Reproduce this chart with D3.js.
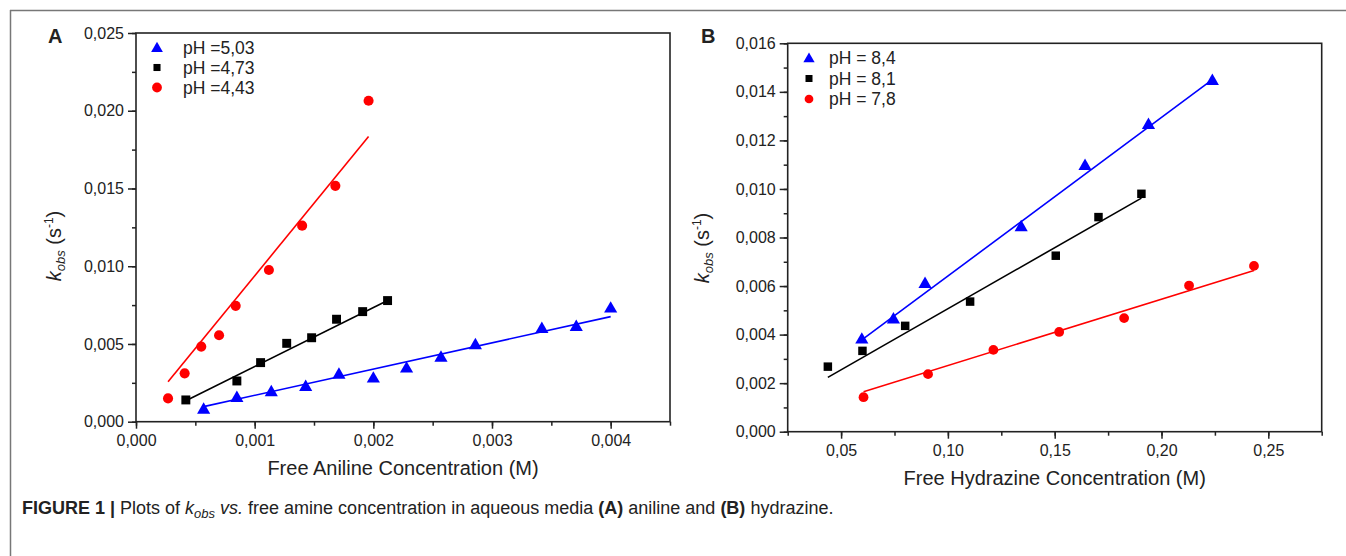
<!DOCTYPE html>
<html>
<head>
<meta charset="utf-8">
<script src="https://cdn.jsdelivr.net/npm/d3@7"></script>
<style>
  body { margin: 0; background: #fff; }
  svg { display: block; }
  text { font-family: "Liberation Sans", Arial, sans-serif; fill: #222; }
</style>
</head>
<body>
<svg class="svg-canvas" width="1346" height="556"></svg>
<script>
// panel A: aniline
var anilineX503 = [0.00057, 0.00085, 0.00114, 0.00143, 0.00171, 0.00200, 0.00228, 0.00257, 0.00286, 0.00342, 0.00371, 0.00400];
var anilineY503 = [0.00086, 0.00161, 0.00198, 0.00232, 0.00311, 0.00286, 0.00350, 0.00420, 0.00500, 0.00605, 0.00618, 0.00736];
var anilineX473 = [0.00042, 0.00085, 0.00105, 0.00127, 0.00148, 0.00169, 0.00191, 0.00212];
var anilineY473 = [0.00140, 0.00262, 0.00380, 0.00504, 0.00540, 0.00659, 0.00708, 0.00779];
var anilineX443 = [0.00027, 0.00041, 0.00055, 0.00070, 0.00084, 0.00112, 0.00140, 0.00168, 0.00196];
var anilineY443 = [0.00150, 0.00311, 0.00483, 0.00556, 0.00745, 0.00976, 0.01261, 0.01517, 0.02064];
// fitted lines, [x0, y0, x1, y1]
var anilineFit503 = [0.00057, 0.00097, 0.00400, 0.00676];
var anilineFit473 = [0.00042, 0.00135, 0.00212, 0.00780];
var anilineFit443 = [0.00027, 0.00257, 0.00196, 0.01834];
var anilineLabels = ["pH =5,03", "pH =4,73", "pH =4,43"];

// panel B: hydrazine
var hydrazineX84 = [0.0597, 0.0745, 0.0893, 0.1343, 0.1642, 0.1939, 0.2238];
var hydrazineY84 = [0.00385, 0.00468, 0.00614, 0.00848, 0.01100, 0.01269, 0.01450];
var hydrazineX81 = [0.0438, 0.0600, 0.0800, 0.1104, 0.1505, 0.1705, 0.1906];
var hydrazineY81 = [0.00268, 0.00333, 0.00436, 0.00536, 0.00725, 0.00884, 0.00980];
var hydrazineX78 = [0.0605, 0.0907, 0.1213, 0.1521, 0.1825, 0.2129, 0.2433];
var hydrazineY78 = [0.00142, 0.00237, 0.00337, 0.00411, 0.00468, 0.00602, 0.00683];
var hydrazineFit84 = [0.0597, 0.00378, 0.2238, 0.01450];
var hydrazineFit81 = [0.0438, 0.00224, 0.1906, 0.00962];
var hydrazineFit78 = [0.0605, 0.00165, 0.2433, 0.00664];
var hydrazineLabels = ["pH = 8,4", "pH = 8,1", "pH = 7,8"];

var anilineXTicks = [0, 0.001, 0.002, 0.003, 0.004];
var anilineYTicks = [0, 0.005, 0.010, 0.015, 0.020, 0.025];
var hydrazineXTicks = [0.05, 0.10, 0.15, 0.20, 0.25];
var hydrazineYTicks = [0, 0.002, 0.004, 0.006, 0.008, 0.010, 0.012, 0.014, 0.016];

var colors = ["#0000ff", "#000000", "#ff0000"];
var shapes = [d3.symbolTriangle, d3.symbolSquare, d3.symbolCircle];

var svg = d3.select(".svg-canvas");
var comma = d3.formatLocale({decimal: ",", thousands: ".", grouping: [3], currency: ["", ""]});

// figure frame (left + top rules)
svg.append("line").attr("x1", 10).attr("y1", 10.5).attr("x2", 1346).attr("y2", 10.5)
  .attr("stroke", "#777").attr("stroke-width", 1.5);
svg.append("line").attr("x1", 10.5).attr("y1", 10).attr("x2", 10.5).attr("y2", 556)
  .attr("stroke", "#777").attr("stroke-width", 1.5);

function drawPanel(p) {
  var g = svg.append("g");
  var x = d3.scaleLinear().domain(p.xDomain).range([p.left, p.right]);
  var y = d3.scaleLinear().domain(p.yDomain).range([p.bottom, p.top]);

  var xMinor = d3.range(p.xDomain[0], p.xDomain[1] + p.xStep / 4, p.xStep / 2);
  var yMinor = d3.range(p.yDomain[0], p.yDomain[1] + p.yStep / 4, p.yStep / 2);

  var xAxis = d3.axisBottom(x).tickValues(p.xTicks).tickFormat(comma.format(p.xFmt))
    .tickSizeInner(7).tickSizeOuter(0).tickPadding(6);
  var yAxis = d3.axisLeft(y).tickValues(p.yTicks).tickFormat(comma.format(".3f"))
    .tickSizeInner(8).tickSizeOuter(0).tickPadding(4);

  g.append("g").attr("transform", "translate(0," + p.bottom + ")")
    .call(d3.axisBottom(x).tickValues(xMinor).tickFormat("").tickSize(4).tickSizeOuter(0))
    .call(function(s) { s.select(".domain").remove(); })
    .selectAll("line").attr("stroke", "#222").attr("stroke-width", 1.5);
  g.append("g").attr("transform", "translate(" + p.left + ",0)")
    .call(d3.axisLeft(y).tickValues(yMinor).tickFormat("").tickSize(4).tickSizeOuter(0))
    .call(function(s) { s.select(".domain").remove(); })
    .selectAll("line").attr("stroke", "#222").attr("stroke-width", 1.5);

  var gx = g.append("g").attr("transform", "translate(0," + p.bottom + ")").call(xAxis);
  var gy = g.append("g").attr("transform", "translate(" + p.left + ",0)").call(yAxis);
  [gx, gy].forEach(function(a) {
    a.select(".domain").remove();
    a.selectAll("line").attr("stroke", "#222").attr("stroke-width", 1.5);
    a.selectAll("text").attr("font-size", 16).attr("fill", "#333")
      .attr("font-family", "'Liberation Sans', Arial, sans-serif");
  });

  g.append("rect")
    .attr("x", p.left).attr("y", p.top)
    .attr("width", p.right - p.left).attr("height", p.bottom - p.top)
    .attr("fill", "none").attr("stroke", "#222").attr("stroke-width", 1.6);

  // fit lines
  p.fits.forEach(function(f, i) {
    g.append("line")
      .attr("x1", x(f[0])).attr("y1", y(f[1]))
      .attr("x2", x(f[2])).attr("y2", y(f[3]))
      .attr("stroke", colors[i]).attr("stroke-width", 1.6);
  });

  // points
  p.series.forEach(function(s, i) {
    g.selectAll(".pt" + i)
      .data(d3.zip(s[0], s[1])).enter()
      .append("path")
      .attr("class", "pt" + i)
      .attr("d", d3.symbol().type(shapes[i]).size(p.sizes[i]))
      .attr("transform", function(d) {
        var dy = i === 0 ? 1.5 : 0;
        return "translate(" + x(d[0]) + "," + (y(d[1]) + dy) + ")";
      })
      .attr("fill", colors[i]);
  });

  // legend
  p.labels.forEach(function(lab, i) {
    var ly = p.legendY + i * p.legendGap;
    g.append("path")
      .attr("d", d3.symbol().type(shapes[i]).size(p.legendSizes[i]))
      .attr("transform", "translate(" + p.legendX + "," + (ly + (i === 0 ? 1 : 0)) + ")")
      .attr("fill", colors[i]);
    g.append("text")
      .attr("x", p.legendX + p.legendPad).attr("y", ly)
      .attr("dy", "0.36em")
      .attr("font-size", 17.5)
      .attr("fill", "#222")
      .text(lab);
  });

  // panel letter
  g.append("text").attr("x", p.letterX).attr("y", p.letterY)
    .attr("font-size", 20).attr("font-weight", "bold").attr("fill", "#111")
    .text(p.letter);

  // axis titles
  g.append("text")
    .attr("x", (p.left + p.right) / 2).attr("y", p.bottom + 53)
    .attr("text-anchor", "middle").attr("font-size", 20).attr("fill", "#222")
    .text(p.xTitle);

  var yt = g.append("text")
    .attr("transform", "translate(" + p.yTitleX + "," + p.yTitleY + ") rotate(-90)")
    .attr("text-anchor", "middle").attr("font-size", 20).attr("fill", "#222");
  yt.append("tspan").attr("font-style", "italic").text("k");
  yt.append("tspan").attr("font-style", "italic").attr("font-size", 13).attr("dy", 4).text("obs");
  yt.append("tspan").attr("dy", -4).text(" (s");
  yt.append("tspan").attr("font-size", 12).attr("dy", -8).text("-1");
  yt.append("tspan").attr("dy", 8).text(")");
}

drawPanel({
  letter: "A", letterX: 48, letterY: 43,
  left: 136, right: 670, top: 33, bottom: 421.7,
  xDomain: [0, 0.0045], yDomain: [0, 0.025], xStep: 0.001, yStep: 0.005,
  xTicks: anilineXTicks, yTicks: anilineYTicks, xFmt: ".3f",
  series: [[anilineX503, anilineY503], [anilineX473, anilineY473], [anilineX443, anilineY443]],
  fits: [anilineFit503, anilineFit473, anilineFit443],
  sizes: [75, 80, 80],
  labels: anilineLabels, legendX: 157, legendY: 47.5, legendGap: 20, legendPad: 26,
  legendSizes: [60, 50, 75],
  xTitle: "Free Aniline Concentration (M)",
  yTitleX: 61, yTitleY: 246
});

drawPanel({
  letter: "B", letterX: 701, letterY: 43,
  left: 787.7, right: 1321.7, top: 43.3, bottom: 431.7,
  xDomain: [0.025, 0.275], yDomain: [0, 0.016], xStep: 0.05, yStep: 0.002,
  xTicks: hydrazineXTicks, yTicks: hydrazineYTicks, xFmt: ".2f",
  series: [[hydrazineX84, hydrazineY84], [hydrazineX81, hydrazineY81], [hydrazineX78, hydrazineY78]],
  fits: [hydrazineFit84, hydrazineFit81, hydrazineFit78],
  sizes: [75, 72, 75],
  labels: hydrazineLabels, legendX: 809, legendY: 58, legendGap: 20.5, legendPad: 20,
  legendSizes: [55, 49, 60],
  xTitle: "Free Hydrazine Concentration (M)",
  yTitleX: 709, yTitleY: 248
});

// caption
var cap = svg.append("text")
  .attr("x", 22).attr("y", 514).attr("font-size", 18).attr("fill", "#222");
cap.append("tspan").attr("font-weight", "bold").text("FIGURE 1 | ");
cap.append("tspan").text("Plots of ");
cap.append("tspan").attr("font-style", "italic").text("k");
cap.append("tspan").attr("font-style", "italic").attr("font-size", 13).attr("dy", 4).text("obs");
cap.append("tspan").attr("font-style", "italic").attr("dy", -4).text(" vs.");
cap.append("tspan").text(" free amine concentration in aqueous media ");
cap.append("tspan").attr("font-weight", "bold").text("(A)");
cap.append("tspan").text(" aniline and ");
cap.append("tspan").attr("font-weight", "bold").text("(B)");
cap.append("tspan").text(" hydrazine.");
</script>
</body>
</html>
